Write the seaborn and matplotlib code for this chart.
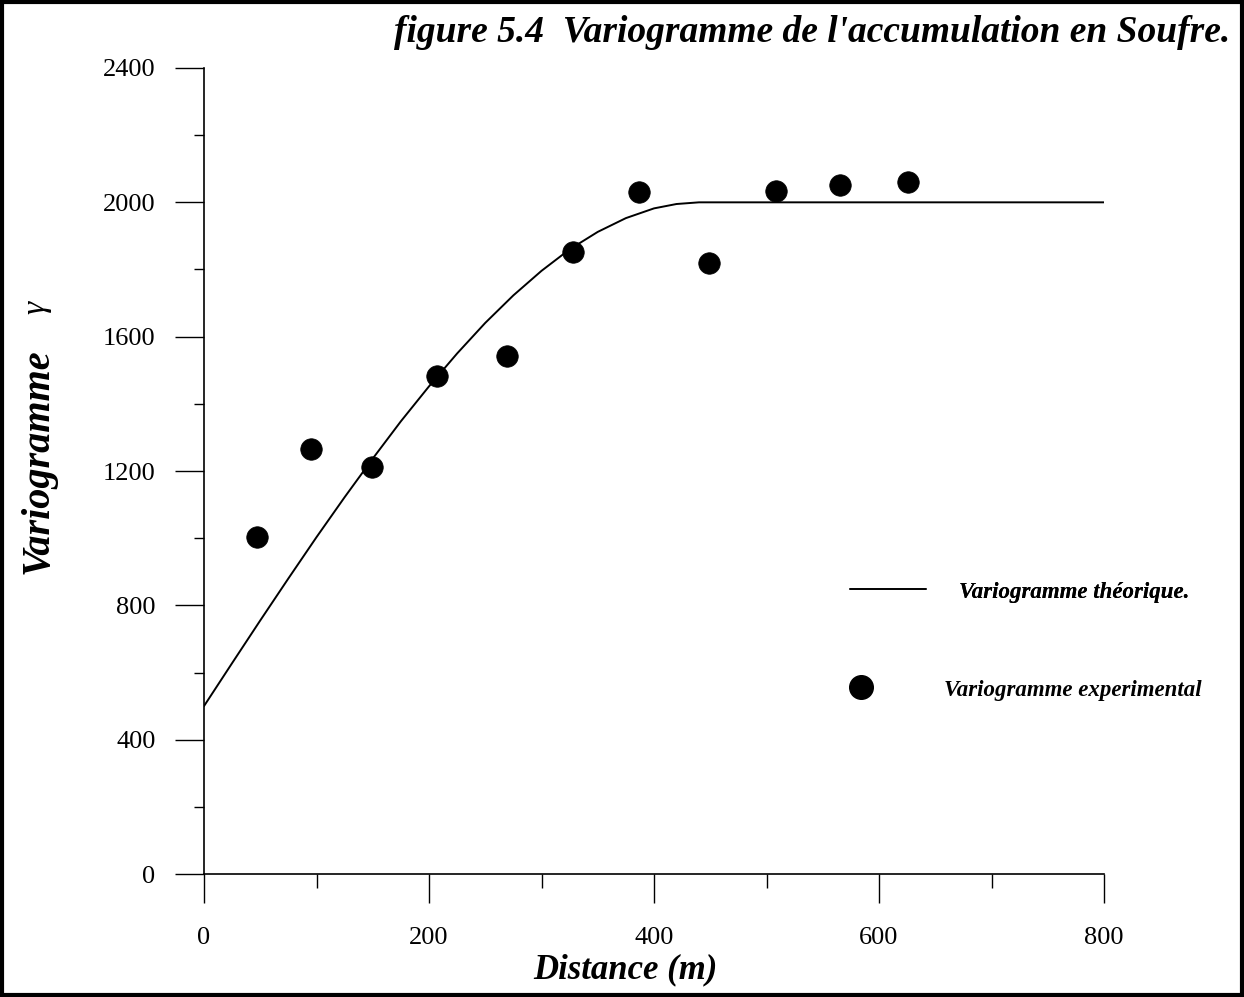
import matplotlib
matplotlib.use("Agg")
import matplotlib.pyplot as plt
from matplotlib.patches import Rectangle
from matplotlib.lines import Line2D
from matplotlib.ticker import MultipleLocator
import seaborn as sns
import pandas as pd

# Experimental variogram points
exp_dist = [47, 95, 149, 207, 269, 328, 387, 449, 508, 565, 626]
exp_gamma = [1003, 1266, 1212, 1483, 1543, 1852, 2031, 1820, 2034, 2052, 2061]

# Theoretical variogram curve
th_dist = [0, 25, 50, 75, 100, 125, 150, 175, 200, 225, 250, 275, 300, 325,
           350, 375, 400, 420, 440, 800]
th_gamma = [500, 628, 755, 880, 1003, 1122, 1237, 1348, 1452, 1550, 1641,
            1723, 1796, 1860, 1912, 1953, 1982, 1995, 2000, 2000]

x_ticks = [0, 200, 400, 600, 800]
y_ticks = [0, 400, 800, 1200, 1600, 2000, 2400]

title = "figure 5.4  Variogramme de l'accumulation en Soufre."
xlabel = "Distance (m)"
ylabel = "Variogramme"
ysymbol = "\u03b3"
leg_line = "Variogramme théorique."
leg_pts = "Variogramme experimental"

sns.set_theme(style="white")
plt.rcParams['font.family'] = ['Liberation Serif', 'DejaVu Serif']
plt.rcParams['text.color'] = 'black'
plt.rcParams['axes.labelcolor'] = 'black'
plt.rcParams['xtick.color'] = 'black'
plt.rcParams['ytick.color'] = 'black'

W, H = 1244, 997
fig = plt.figure(figsize=(12.44, 9.97), dpi=100)
ax = fig.add_axes([204/W, 1 - 874/H, 900/W, 806/H])

df_th = pd.DataFrame({"d": th_dist, "g": th_gamma})
df_ex = pd.DataFrame({"d": exp_dist, "g": exp_gamma})
sns.lineplot(data=df_th, x="d", y="g", ax=ax, color="black", lw=1.4, sort=False)
sns.scatterplot(data=df_ex, x="d", y="g", ax=ax, color="black", s=240,
                edgecolor="black", linewidth=0.5, zorder=5)

ax.set_xlim(0, 800)
ax.set_ylim(0, 2400)
ax.set_xticks(x_ticks)
ax.set_yticks(y_ticks)
ax.xaxis.set_minor_locator(MultipleLocator(100))
ax.yaxis.set_minor_locator(MultipleLocator(200))
for s in ["top", "right"]:
    ax.spines[s].set_visible(False)
for s in ["left", "bottom"]:
    ax.spines[s].set_color("black")
    ax.spines[s].set_linewidth(1.2)
ax.tick_params(axis="x", which="major", direction="out", length=21, width=1,
               pad=17, labelsize=19, bottom=True)
ax.tick_params(axis="x", which="minor", direction="out", length=10, width=1,
               bottom=True)
ax.tick_params(axis="y", which="major", direction="out", length=21, width=1,
               pad=14, labelsize=19, left=True)
ax.tick_params(axis="y", which="minor", direction="out", length=7, width=1,
               left=True)
ax.set_xlabel("")
ax.set_ylabel("")

fig.text(1230/W, 1 - 33/H, title, ha="right", va="center",
         fontsize=27, fontweight="bold", fontstyle="italic")
fig.text(625/W, 1 - 970/H, xlabel, ha="center", va="center",
         fontsize=25, fontweight="bold", fontstyle="italic")
fig.text(38/W, 1 - 461/H, ylabel, ha="center", va="center",
         rotation=90, fontsize=29, fontweight="bold", fontstyle="italic")
fig.text(36/W, 1 - 307/H, ysymbol, ha="center", va="center",
         rotation=90, fontsize=24, fontstyle="italic")

leg_prop = {"family": "Liberation Serif", "style": "italic",
            "weight": "bold", "size": 16.5}
leg1 = fig.legend([Line2D([0], [0], color="black", lw=1.2)], [leg_line],
                  loc="center left", bbox_to_anchor=(850/W, 1 - 592/H),
                  frameon=False, borderpad=0, borderaxespad=0,
                  handlelength=3.3, handletextpad=1.45, prop=leg_prop)
leg2 = fig.legend([Line2D([0], [0], color="black", marker="o", markersize=17, lw=0)],
                  [leg_pts], loc="center left", bbox_to_anchor=(850/W, 1 - 690/H),
                  frameon=False, borderpad=0, borderaxespad=0,
                  handlelength=1.0, handletextpad=3.1, prop=leg_prop)
fig.add_artist(leg1)

fig.patches.append(Rectangle((0.002, 0.002), 0.996, 0.996, transform=fig.transFigure,
                             fill=False, edgecolor="black", linewidth=3))

fig.savefig("out.png", dpi=100, facecolor="white")
